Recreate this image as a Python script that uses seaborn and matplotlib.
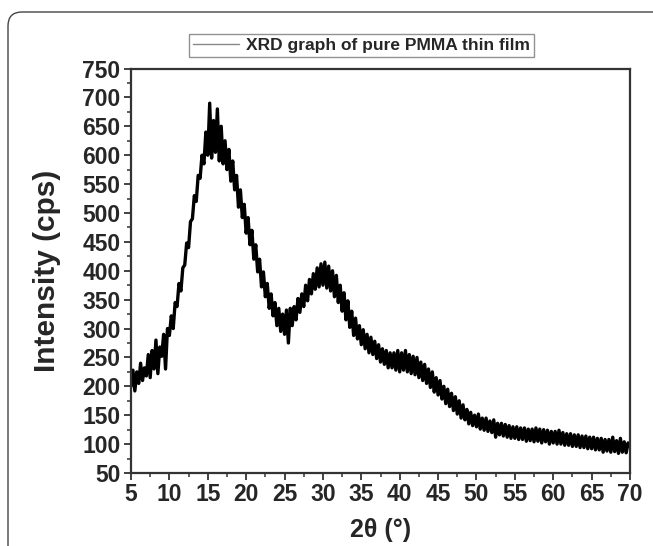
import numpy as np
import pandas as pd
import matplotlib
matplotlib.use("Agg")
import matplotlib.pyplot as plt
from matplotlib.patches import FancyBboxPatch
from matplotlib.ticker import MultipleLocator
import seaborn as sns

# 2-theta from 5 to 70 deg in 0.25 deg steps
two_theta = np.arange(5.0, 70.01, 0.25)

# intensity, 4 readings per degree (5.00, 5.25, 5.50, 5.75, ...)
intensity = [
    200, 228, 192, 225,   # 5
    205, 240, 210, 232,   # 6
    218, 255, 215, 262,   # 7
    230, 280, 222, 268,   # 8
    252, 290, 230, 300,   # 9
    288, 322, 300, 345,   # 10
    338, 378, 365, 405,   # 11
    410, 448, 440, 485,   # 12
    490, 530, 520, 565,   # 13
    560, 600, 585, 640,   # 14
    600, 690, 595, 660,   # 15
    605, 680, 590, 650,   # 16
    585, 625, 575, 610,   # 17
    555, 590, 540, 565,   # 18
    510, 540, 492, 515,   # 19
    465, 492, 445, 470,   # 20
    420, 445, 398, 420,   # 21
    372, 398, 355, 378,   # 22
    335, 360, 322, 345,   # 23
    305, 335, 295, 325,   # 24
    290, 332, 275, 335,   # 25
    305, 338, 315, 352,   # 26
    328, 360, 338, 375,   # 27
    348, 385, 360, 395,   # 28
    368, 405, 372, 412,   # 29
    375, 415, 370, 408,   # 30
    365, 400, 355, 392,   # 31
    345, 375, 330, 362,   # 32
    315, 348, 302, 330,   # 33
    288, 318, 282, 305,   # 34
    272, 298, 265, 290,   # 35
    258, 285, 255, 278,   # 36
    248, 272, 242, 265,   # 37
    238, 262, 232, 258,   # 38
    232, 258, 228, 262,   # 39
    225, 258, 228, 262,   # 40
    225, 255, 222, 252,   # 41
    220, 250, 215, 242,   # 42
    210, 238, 205, 230,   # 43
    198, 225, 190, 215,   # 44
    185, 210, 178, 200,   # 45
    170, 195, 165, 188,   # 46
    158, 182, 152, 175,   # 47
    145, 168, 142, 160,   # 48
    135, 155, 132, 150,   # 49
    130, 152, 126, 145,   # 50
    124, 145, 122, 140,   # 51
    120, 142, 112, 136,   # 52
    116, 136, 114, 134,   # 53
    112, 132, 110, 130,   # 54
    110, 130, 108, 128,   # 55
    108, 128, 105, 126,   # 56
    106, 126, 104, 128,   # 57
    105, 126, 102, 125,   # 58
    104, 124, 100, 122,   # 59
    102, 122, 100, 124,   # 60
    100, 120, 98, 118,    # 61
    98, 118, 96, 116,     # 62
    96, 116, 94, 114,     # 63
    94, 114, 92, 112,     # 64
    92, 112, 90, 110,     # 65
    90, 110, 86, 108,     # 66
    88, 108, 86, 112,     # 67
    87, 106, 84, 110,     # 68
    86, 104, 85, 102,     # 69
    95,                   # 70
]

series_label = "XRD graph of pure PMMA thin film"
x_ticks = list(range(5, 71, 5))
y_ticks = list(range(50, 751, 50))

df = pd.DataFrame({"two_theta": two_theta, "intensity": intensity})

sns.set_style("ticks")
plt.rcParams["font.family"] = ["Liberation Sans", "DejaVu Sans"]
plt.rcParams["font.weight"] = "bold"

fig = plt.figure(figsize=(6.53, 5.46), dpi=100)
ax = fig.add_axes([131 / 653, 1 - 473 / 546, 499 / 653, 404.5 / 546])

sns.lineplot(data=df, x="two_theta", y="intensity", ax=ax, color="black",
             lw=2.4, label=series_label, sort=False)

ax.set_xlim(5, 70)
ax.set_ylim(50, 750)
ax.set_xticks(x_ticks)
ax.set_yticks(y_ticks)
ax.xaxis.set_minor_locator(MultipleLocator(2.5))
ax.yaxis.set_minor_locator(MultipleLocator(25))
ax.tick_params(which="major", direction="out", length=5, width=1.3,
               labelsize=16.5, pad=2.5, color="#333333")
ax.tick_params(which="minor", direction="out", length=3, width=1.1, color="#333333")
for lab in ax.get_xticklabels() + ax.get_yticklabels():
    lab.set_fontweight("bold")
for side in ["left", "right", "top", "bottom"]:
    ax.spines[side].set_visible(True)
    ax.spines[side].set_linewidth(1.6)
    ax.spines[side].set_color("#333333")

ax.set_ylabel("Intensity (cps)", fontsize=21.5, fontweight="bold", labelpad=15)
ax.set_xlabel("2θ (°)", fontsize=18, fontweight="bold", labelpad=8)

ax.legend_.remove()
leg = fig.legend(*ax.get_legend_handles_labels(), loc="center",
                 bbox_to_anchor=(361.5 / 653, 1 - 45.5 / 546),
                 frameon=True, fancybox=False,
                 handlelength=2.6, handletextpad=0.4, borderpad=0.25,
                 prop={"weight": "bold", "size": 12.5})
leg.get_frame().set_edgecolor("#777777")
leg.get_frame().set_linewidth(1.0)
leg.get_lines()[0].set_color("#888888")
leg.get_lines()[0].set_linewidth(1.0)

# rounded outer frame of the original figure panel
frame = FancyBboxPatch((8, -30), 700, 30 + 534, boxstyle="round,pad=0,rounding_size=14",
                       transform=None, fill=False, edgecolor="#444444", lw=1.0)
fig.patches.append(frame)

fig.savefig("out.png", dpi=100)
